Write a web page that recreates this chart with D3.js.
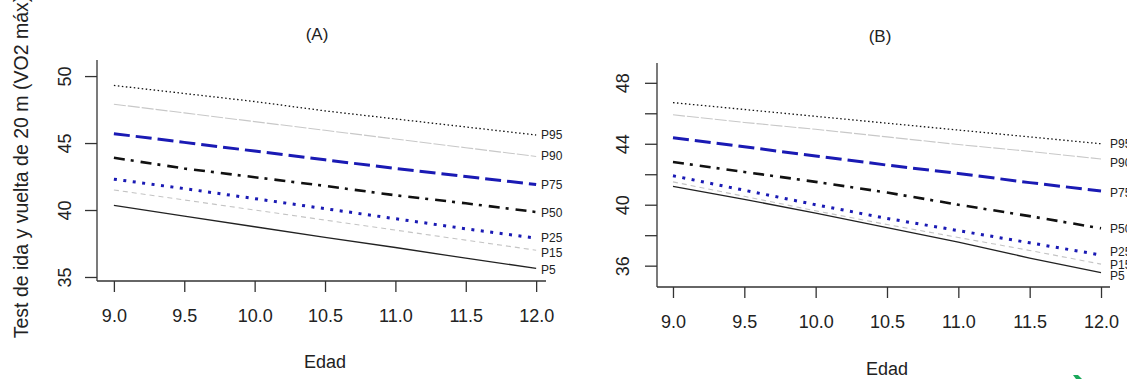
<!DOCTYPE html>
<html>
<head>
<meta charset="utf-8">
<script src="https://cdn.jsdelivr.net/npm/d3@7"></script>
<style>
  body { margin: 0; background: #fff; }
  svg { display: block; font-family: Arial, "Liberation Sans", sans-serif; }
</style>
</head>
<body>
<script>
// ages on the x axis
const ages = [9.0, 9.5, 10.0, 10.5, 11.0, 11.5, 12.0];
const percentiles = ["P95", "P90", "P75", "P50", "P25", "P15", "P5"];

// panel (A) values, one array per percentile
const a_p95 = [49.3, 48.7, 48.1, 47.4, 46.8, 46.2, 45.6];
const a_p90 = [47.9, 47.25, 46.6, 45.95, 45.3, 44.65, 44.0];
const a_p75 = [45.7, 45.05, 44.4, 43.75, 43.1, 42.5, 41.9];
const a_p50 = [43.9, 43.1, 42.45, 41.8, 41.1, 40.5, 39.85];
const a_p25 = [42.3, 41.6, 40.85, 40.1, 39.35, 38.6, 37.9];
const a_p15 = [41.5, 40.75, 40.0, 39.25, 38.5, 37.75, 37.0];
const a_p5 = [40.35, 39.55, 38.75, 37.95, 37.2, 36.4, 35.65];

// panel (B) values
const b_p95 = [46.7, 46.25, 45.8, 45.35, 44.9, 44.45, 44.0];
const b_p90 = [45.9, 45.4, 44.95, 44.45, 43.95, 43.5, 43.0];
const b_p75 = [44.4, 43.8, 43.2, 42.6, 42.05, 41.45, 40.9];
const b_p50 = [42.8, 42.15, 41.5, 40.8, 40.0, 39.25, 38.45];
const b_p25 = [41.9, 40.95, 40.0, 39.1, 38.3, 37.5, 36.7];
const b_p15 = [41.5, 40.55, 39.6, 38.7, 37.85, 37.0, 36.1];
const b_p5 = [41.2, 40.35, 39.45, 38.5, 37.55, 36.5, 35.55];

// where the P-labels sit at the right end (y value)
const a_labelY = [45.6, 44.0, 41.85, 39.8, 37.9, 36.8, 35.5];
const b_labelY = [44.0, 42.75, 40.8, 38.4, 36.9, 36.05, 35.3];

// tick labels
const xTicks = [9.0, 9.5, 10.0, 10.5, 11.0, 11.5, 12.0];
const a_yTicks = [35, 40, 45, 50];
const b_yTicks = [36, 38, 40, 42, 44, 46, 48];
const b_yTickLabels = [36, 40, 44, 48];

const styles = {
  P95: { color: "#111", width: 1.3, dash: "1.5,2.5" },
  P90: { color: "#c8c8c8", width: 1.1, dash: "12,2" },
  P75: { color: "#1a1ab4", width: 3, dash: "16,6" },
  P50: { color: "#111", width: 2.6, dash: "11,6,3,7" },
  P25: { color: "#1a1ab4", width: 3, dash: "3,6.5" },
  P15: { color: "#c4c4c4", width: 1.1, dash: "5,4" },
  P5: { color: "#222", width: 1.3, dash: null }
};

const width = 1127;
const height = 379;

const svg = d3.select("body")
  .append("svg")
  .attr("width", width)
  .attr("height", height);

const panels = [
  {
    title: "(A)", titleX: 317, titleY: 40,
    series: [a_p95, a_p90, a_p75, a_p50, a_p25, a_p15, a_p5],
    labelY: a_labelY,
    xDomain: [8.88, 12.07], xRange: [97, 546],
    yDomain: [34.7, 51.2], yRange: [281, 60],
    yTicks: a_yTicks, yTickLabels: a_yTicks,
    yLabelX: 65, xLabelY: 316, labelX: 541,
    edadX: 325, edadY: 368
  },
  {
    title: "(B)", titleX: 880, titleY: 42,
    series: [b_p95, b_p90, b_p75, b_p50, b_p25, b_p15, b_p5],
    labelY: b_labelY,
    xDomain: [8.888, 12.063], xRange: [657, 1110],
    yDomain: [34.6, 49.3], yRange: [287, 63],
    yTicks: b_yTicks, yTickLabels: b_yTickLabels,
    yLabelX: 623, xLabelY: 322, labelX: 1110,
    edadX: 887, edadY: 375
  }
];

panels.forEach(p => {
  const x = d3.scaleLinear().domain(p.xDomain).range(p.xRange);
  const y = d3.scaleLinear().domain(p.yDomain).range(p.yRange);
  const g = svg.append("g");

  // axes: only left and bottom, R style
  const yAxis = d3.axisLeft(y)
    .tickValues(p.yTicks)
    .tickSize(12)
    .tickFormat(d => p.yTickLabels.includes(d) ? d : "");
  const yg = g.append("g")
    .attr("transform", `translate(${p.xRange[0]},0)`)
    .call(yAxis);
  yg.select(".domain").attr("d", `M0,${p.yRange[1]}V${p.yRange[0]}`);

  const xAxis = d3.axisBottom(x)
    .tickValues(xTicks)
    .tickSize(11)
    .tickFormat(d3.format(".1f"));
  const xg = g.append("g")
    .attr("transform", `translate(0,${p.yRange[0]})`)
    .call(xAxis);
  xg.select(".domain").attr("d", `M${p.xRange[0]},0H${p.xRange[1]}`);

  g.selectAll(".domain, .tick line")
    .attr("stroke", "#333")
    .attr("stroke-width", 1.3);

  xg.selectAll(".tick text")
    .attr("y", null)
    .attr("dy", null)
    .attr("transform", `translate(0,${p.xLabelY - p.yRange[0]})`)
    .attr("dominant-baseline", "central")
    .attr("font-size", 18)
    .attr("fill", "#222");

  yg.selectAll(".tick text")
    .attr("x", null)
    .attr("dy", null)
    .attr("text-anchor", "middle")
    .attr("dominant-baseline", "central")
    .attr("transform", `translate(${p.yLabelX - p.xRange[0]},0) rotate(-90)`)
    .attr("font-size", 18)
    .attr("fill", "#222");

  // percentile curves
  const line = d3.line()
    .x((d, i) => x(ages[i]))
    .y(d => y(d));

  p.series.forEach((vals, i) => {
    const s = styles[percentiles[i]];
    g.append("path")
      .datum(vals)
      .attr("d", line)
      .attr("fill", "none")
      .attr("stroke", s.color)
      .attr("stroke-width", s.width)
      .attr("stroke-dasharray", s.dash);

    g.append("text")
      .attr("x", p.labelX)
      .attr("y", y(p.labelY[i]))
      .attr("dominant-baseline", "central")
      .attr("font-size", 12)
      .attr("fill", "#222")
      .text(percentiles[i]);
  });

  g.append("text")
    .attr("x", p.titleX)
    .attr("y", p.titleY)
    .attr("text-anchor", "middle")
    .attr("font-size", 17)
    .attr("fill", "#222")
    .text(p.title);

  g.append("text")
    .attr("x", p.edadX)
    .attr("y", p.edadY)
    .attr("text-anchor", "middle")
    .attr("font-size", 18)
    .attr("fill", "#222")
    .text("Edad");
});

// shared y axis title, partly cut at the top like in the original
svg.append("text")
  .attr("transform", "translate(21,167) rotate(-90)")
  .attr("text-anchor", "middle")
  .attr("dominant-baseline", "central")
  .attr("font-size", 19.5)
  .attr("fill", "#222")
  .text("Test de ida y vuelta de 20 m (VO2 máx)");

// little green mark in the bottom corner of the scan
svg.append("path")
  .attr("d", "M1073,375 L1078,375 L1082,379 L1076,379 Z")
  .attr("fill", "#1aa85a");
</script>
</body>
</html>
